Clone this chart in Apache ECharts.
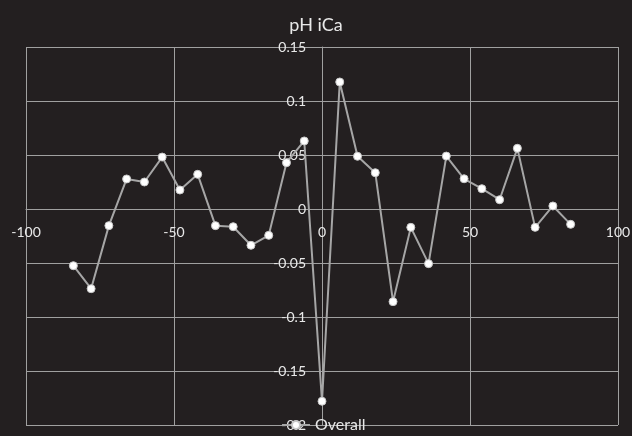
<!DOCTYPE html>
<html>
<head>
<meta charset="utf-8">
<script src="https://cdn.jsdelivr.net/npm/echarts@6/dist/echarts.min.js"></script>
<style>
html,body{margin:0;padding:0;background:#231f20;}
#chart{width:632px;height:436px;}
</style>
</head>
<body>
<div id="chart"></div>
<script>
const title = 'pH iCa';
const seriesName = 'Overall';
const xValues = [-84,-78,-72,-66,-60,-54,-48,-42,-36,-30,-24,-18,-12,-6,0,6,12,18,24,30,36,42,48,54,60,66,72,78,84];
const yValues = [-0.0525,-0.0738,-0.0154,0.0278,0.025,0.0481,0.0176,0.0321,-0.0154,-0.0164,-0.0336,-0.0244,0.0429,0.063,-0.178,0.1176,0.0488,0.0336,-0.0858,-0.017,-0.0506,0.049,0.028,0.0188,0.0086,0.0562,-0.017,0.0028,-0.0142];
const xTicks = [-100,-50,0,50,100];
const yTicks = [-0.2,-0.15,-0.1,-0.05,0,0.05,0.1,0.15];

const FONT = 'Lato, "Open Sans", sans-serif';
const TEXT = '#e8e8e8';
const GRID = '#a0a0a0';

const W = 632, H = 436;
const G = {left: 26, right: 14, top: 47, bottom: 11};
const plotW = W - G.left - G.right, plotH = H - G.top - G.bottom;
const xMin = xTicks[0], xMax = xTicks[xTicks.length-1];
const yMin = yTicks[0], yMax = yTicks[yTicks.length-1];
// shift axes so they cross at zero (like Excel)
const xAxisOffset = -((0 - yMin) / (yMax - yMin)) * plotH;
const yAxisOffset = -((0 - xMin) / (xMax - xMin)) * plotW;

const chart = echarts.init(document.getElementById('chart'), null, {renderer:'canvas'});
chart.setOption({
  backgroundColor: '#231f20',
  animation: false,
  title: {
    text: title, left: 'center', top: 11,
    textStyle: {color: TEXT, fontFamily: FONT, fontSize: 18, fontWeight: 'normal'}
  },
  legend: {
    data: [seriesName], left: 281, top: 417, padding: 0,
    itemWidth: 28, itemHeight: 10, itemGap: 4,
    textStyle: {color: TEXT, fontFamily: FONT, fontSize: 16}
  },
  grid: Object.assign({containLabel: false, outerBoundsMode: 'none'}, G),
  xAxis: {
    type: 'value', min: xMin, max: xMax, interval: 50,
    position: 'bottom', offset: xAxisOffset,
    axisLine: {onZero: false, lineStyle: {color: GRID, width: 1}},
    axisTick: {show: false},
    axisLabel: {color: TEXT, fontFamily: FONT, fontSize: 14, margin: 16, showMinLabel: true, showMaxLabel: true},
    splitLine: {show: true, lineStyle: {color: GRID, width: 1}}
  },
  yAxis: {
    type: 'value', min: yMin, max: yMax, interval: 0.05,
    position: 'left', offset: yAxisOffset,
    axisLine: {onZero: false, lineStyle: {color: GRID, width: 1}},
    axisTick: {show: false},
    axisLabel: {color: TEXT, fontFamily: FONT, fontSize: 14, margin: 16, showMinLabel: true, showMaxLabel: true},
    splitLine: {show: true, lineStyle: {color: GRID, width: 1}}
  },
  series: [{
    name: seriesName, type: 'line',
    data: xValues.map((x,i)=>[x, yValues[i]]),
    symbol: 'circle', symbolSize: 8,
    lineStyle: {color: '#a6a6a6', width: 2},
    itemStyle: {color: '#ffffff', borderColor: '#c8c8c8', borderWidth: 1}
  }]
});
</script>
</body>
</html>
